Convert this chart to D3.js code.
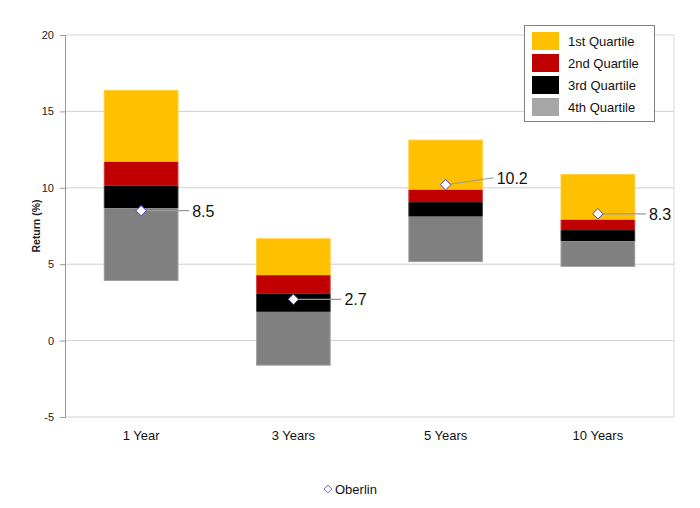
<!DOCTYPE html>
<html>
<head>
<meta charset="utf-8">
<script src="https://cdn.jsdelivr.net/npm/d3@7"></script>
<style>
  body { margin: 0; background: #fff; }
  text { font-family: "Liberation Sans", Arial, sans-serif; }
</style>
</head>
<body>
<div id="chart"></div>
<script>
// data
var periods = ["1 Year", "3 Years", "5 Years", "10 Years"];
var q1Top = [16.4, 6.7, 13.15, 10.9];      // top of 1st quartile
var q2Top = [11.7, 4.28, 9.87, 7.91];      // 1st/2nd boundary
var q3Top = [10.15, 3.06, 9.06, 7.23];     // 2nd/3rd boundary
var q4Top = [8.67, 1.88, 8.11, 6.51];      // 3rd/4th boundary
var q4Bottom = [3.9, -1.64, 5.14, 4.82];   // bottom of 4th quartile
var oberlin = [8.5, 2.7, 10.2, 8.3];
var oberlinLabels = ["8.5", "2.7", "10.2", "8.3"];
var yTicks = [-5, 0, 5, 10, 15, 20];
var quartileNames = ["1st Quartile", "2nd Quartile", "3rd Quartile", "4th Quartile"];

var w = 700, h = 508;
var plotLeft = 65, plotRight = 674, plotTop = 35, plotBottom = 417;

var svg = d3.select("#chart").append("svg")
    .attr("width", w)
    .attr("height", h);

var x = d3.scaleBand().domain(periods).range([plotLeft, plotRight]).paddingInner(0).paddingOuter(0);
var y = d3.scaleLinear().domain([-5, 20]).range([plotBottom, plotTop]);

// gridlines
svg.selectAll(".grid")
    .data(yTicks)
    .enter()
    .append("line")
    .attr("x1", plotLeft).attr("x2", plotRight)
    .attr("y1", function(d) { return y(d); })
    .attr("y2", function(d) { return y(d); })
    .attr("stroke", "#d0d0d0")
    .attr("stroke-width", 1);

// right border of plot area
svg.append("line")
    .attr("x1", plotRight).attr("x2", plotRight)
    .attr("y1", plotTop).attr("y2", plotBottom)
    .attr("stroke", "#d9d9d9");

// left axis
var yAxis = d3.axisLeft(y).tickValues(yTicks).tickSize(5).tickPadding(6)
    .tickFormat(function(d) { return String(d); });
var gy = svg.append("g").attr("transform", "translate(" + plotLeft + ",0)").call(yAxis);
gy.select(".domain").attr("stroke", "#999");
gy.selectAll(".tick line").attr("stroke", "#999");
gy.selectAll(".tick text").attr("font-size", 11).attr("fill", "#222")
    .attr("font-family", "Liberation Sans, Arial, sans-serif");

svg.append("text")
    .attr("transform", "translate(40," + y(7.5) + ") rotate(-90)")
    .attr("text-anchor", "middle")
    .attr("font-size", 10.5)
    .attr("font-weight", "bold")
    .attr("fill", "#222")
    .text("Return (%)");

// x labels
svg.selectAll(".xlab")
    .data(periods)
    .enter()
    .append("text")
    .attr("x", function(d) { return x(d) + x.bandwidth() / 2; })
    .attr("y", 440)
    .attr("text-anchor", "middle")
    .attr("font-size", 13)
    .attr("fill", "#111")
    .text(function(d) { return d; });

// stacked quartile boxes
var barW = x.bandwidth() * 0.49;
var segs = [];
periods.forEach(function(p, i) {
    segs.push({ p: p, hi: q1Top[i], lo: q2Top[i], c: "#FFC000" });
    segs.push({ p: p, hi: q2Top[i], lo: q3Top[i], c: "#C00000" });
    segs.push({ p: p, hi: q3Top[i], lo: q4Top[i], c: "#000000" });
    segs.push({ p: p, hi: q4Top[i], lo: q4Bottom[i], c: "#808080" });
});

svg.selectAll(".seg")
    .data(segs)
    .enter()
    .append("rect")
    .attr("x", function(d) { return x(d.p) + (x.bandwidth() - barW) / 2; })
    .attr("y", function(d) { return y(d.hi); })
    .attr("width", barW)
    .attr("height", function(d) { return y(d.lo) - y(d.hi); })
    .attr("fill", function(d) { return d.c; });

// thin outline around each box
svg.selectAll(".box")
    .data(periods)
    .enter()
    .append("rect")
    .attr("x", function(d) { return x(d) + (x.bandwidth() - barW) / 2 + 0.5; })
    .attr("y", function(d, i) { return y(q1Top[i]) + 0.5; })
    .attr("width", barW - 1)
    .attr("height", function(d, i) { return y(q4Bottom[i]) - y(q1Top[i]) - 1; })
    .attr("fill", "none")
    .attr("stroke", "#fff")
    .attr("stroke-opacity", 0.25);

// leader lines and labels
var labelDy = [0, 0, -7, 0];
svg.selectAll(".leader")
    .data(oberlin)
    .enter()
    .append("line")
    .attr("x1", function(d, i) { return x(periods[i]) + x.bandwidth() / 2; })
    .attr("y1", function(d) { return y(d); })
    .attr("x2", function(d, i) { return x(periods[i]) + x.bandwidth() / 2 + 48; })
    .attr("y2", function(d, i) { return y(d) + labelDy[i]; })
    .attr("stroke", "#999")
    .attr("stroke-width", 1.2);

svg.selectAll(".olab")
    .data(oberlin)
    .enter()
    .append("text")
    .attr("x", function(d, i) { return x(periods[i]) + x.bandwidth() / 2 + 51; })
    .attr("y", function(d, i) { return y(d) + labelDy[i] + 6; })
    .attr("font-size", 16)
    .attr("fill", "#111")
    .text(function(d, i) { return oberlinLabels[i]; });

// markers
var diamond = d3.symbol().type(d3.symbolDiamond2).size(70);
svg.selectAll(".mark")
    .data(oberlin)
    .enter()
    .append("path")
    .attr("d", diamond)
    .attr("transform", function(d, i) {
        return "translate(" + (x(periods[i]) + x.bandwidth() / 2) + "," + y(d) + ")";
    })
    .attr("fill", "#fff")
    .attr("stroke", "#4040d0")
    .attr("stroke-width", 1);

// legend
var legendColors = ["#FFC000", "#C00000", "#000000", "#A6A6A6"];
var lg = svg.append("g").attr("transform", "translate(524,25)");
lg.append("rect")
    .attr("x", 0.5).attr("y", 0.5)
    .attr("width", 130).attr("height", 96)
    .attr("fill", "#fff")
    .attr("stroke", "#808080");
lg.selectAll(".sw")
    .data(quartileNames)
    .enter()
    .append("rect")
    .attr("x", 8)
    .attr("y", function(d, i) { return 7 + i * 22; })
    .attr("width", 27)
    .attr("height", 18)
    .attr("fill", function(d, i) { return legendColors[i]; });
lg.selectAll(".lt")
    .data(quartileNames)
    .enter()
    .append("text")
    .attr("x", 44)
    .attr("y", function(d, i) { return 21 + i * 22; })
    .attr("font-size", 13)
    .attr("fill", "#111")
    .text(function(d) { return d; });

// bottom legend
svg.append("path")
    .attr("d", d3.symbol().type(d3.symbolDiamond2).size(40))
    .attr("transform", "translate(328,489)")
    .attr("fill", "#fff")
    .attr("stroke", "#7070e0");
svg.append("text")
    .attr("x", 335)
    .attr("y", 494)
    .attr("font-size", 13)
    .attr("fill", "#111")
    .text("Oberlin");
</script>
</body>
</html>
